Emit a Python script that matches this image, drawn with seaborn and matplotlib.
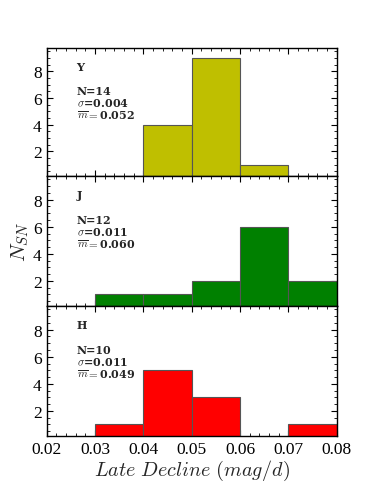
import numpy as np
import matplotlib
matplotlib.use("Agg")
import matplotlib.pyplot as plt
import seaborn as sns
from matplotlib.ticker import MultipleLocator

sns.set_style("ticks")
plt.rcParams['font.family'] = ['Liberation Serif', 'DejaVu Serif']
plt.rcParams['mathtext.fontset'] = 'cm'

# histogram bins and counts per band
bin_edges = [0.02, 0.03, 0.04, 0.05, 0.06, 0.07, 0.08]
bin_centers = [0.025, 0.035, 0.045, 0.055, 0.065, 0.075]
y_counts = [0, 0, 4, 9, 1, 0]
j_counts = [0, 1, 1, 2, 6, 2]
h_counts = [0, 1, 5, 3, 0, 1]

bands = ['Y', 'J', 'H']
counts = [y_counts, j_counts, h_counts]
colors = ['#bfbf00', '#008000', '#ff0000']
n_sn = [14, 12, 10]
sigmas = ['0.004', '0.011', '0.011']
means = ['0.052', '0.060', '0.049']

fig = plt.figure(figsize=(3.74, 4.85), dpi=100)
W, H = 374, 485
left, right = 46.7, 336.7
edges = [49, 177, 307, 437]

ann = dict(fontsize=8, fontweight='bold', va='center', family=['DejaVu Serif'])

axes = []
for i in range(3):
    ax = fig.add_axes([left / W, 1 - edges[i + 1] / H, (right - left) / W, (edges[i + 1] - edges[i]) / H])
    sns.histplot(x=bin_centers, weights=counts[i], bins=bin_edges, color=colors[i],
                 edgecolor='#555555', linewidth=0.8, alpha=1, ax=ax)
    ax.set_xlim(0.02, 0.08)
    ax.set_ylim(0.15, 9.75)
    ax.set_yticks([2, 4, 6, 8])
    ax.yaxis.set_minor_locator(MultipleLocator(0.5))
    ax.set_xticks(bin_edges)
    ax.xaxis.set_minor_locator(MultipleLocator(0.002))
    ax.tick_params(which='both', direction='in', top=True, right=True, labelsize=12.5,
                   colors='black')
    ax.tick_params(which='major', length=4, width=0.8)
    ax.tick_params(which='minor', length=2, width=0.6)
    ax.set_ylabel('')
    for s in ax.spines.values():
        s.set_linewidth(1.0)
        s.set_color('black')
    ax.text(0.103, 0.855, bands[i], transform=ax.transAxes, **ann)
    ax.text(0.103, 0.666, 'N=%d' % n_sn[i], transform=ax.transAxes, **ann)
    ax.text(0.103, 0.576, r'$\sigma$=' + sigmas[i], transform=ax.transAxes, **ann)
    ax.text(0.103, 0.484, r'$\overline{m}=$' + means[i], transform=ax.transAxes, **ann)
    if i < 2:
        ax.set_xticklabels([])
        ax.set_xlabel('')
    axes.append(ax)

axes[2].set_xticklabels(['%.2f' % v for v in bin_edges])
axes[2].set_xlabel(r'$Late\ Decline\ (mag/d)$', fontsize=14.5, labelpad=1)
fig.text(20 / W, 1 - 242 / H, r'$N_{SN}$', rotation=90, fontsize=15, ha='center', va='center')

fig.savefig('out.png', dpi=100)
